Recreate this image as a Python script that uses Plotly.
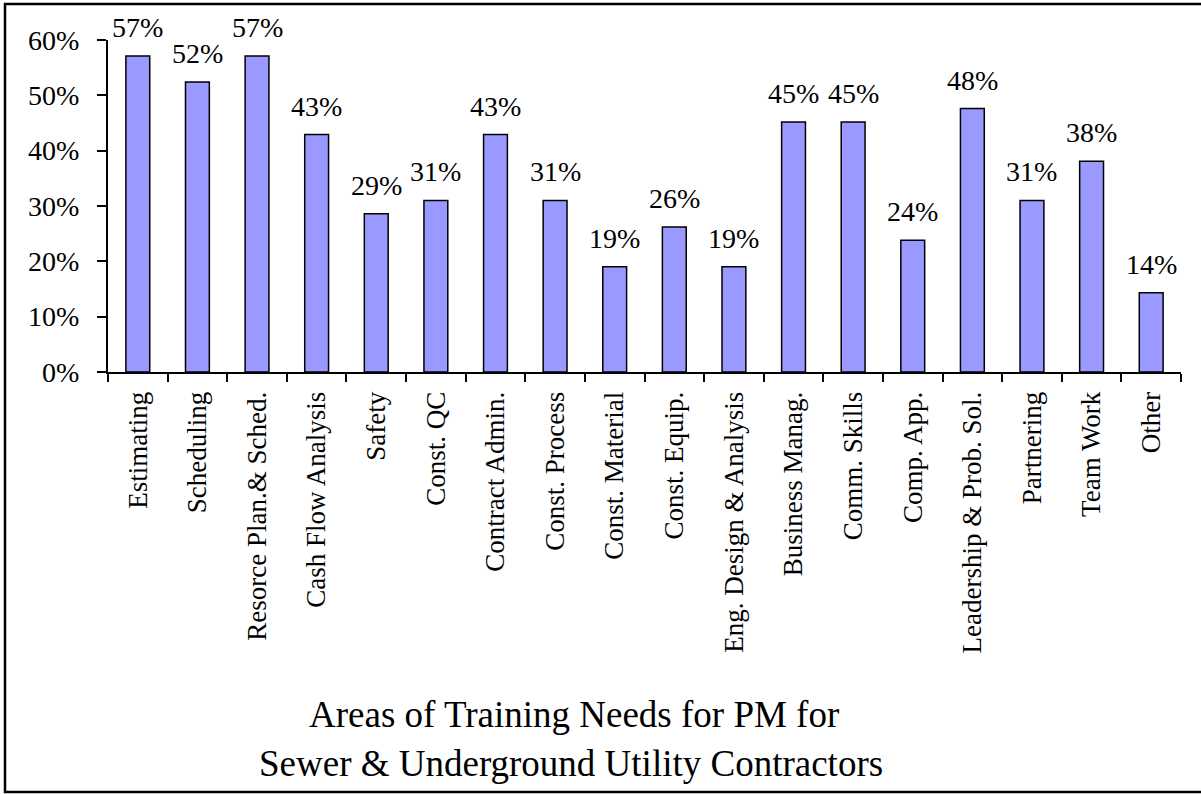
import plotly.graph_objects as go

categories = ["Estimating", "Scheduling", "Resorce Plan.& Sched.", "Cash Flow Analysis",
              "Safety", "Const. QC", "Contract Admin.", "Const. Process", "Const. Material",
              "Const. Equip.", "Eng. Design & Analysis", "Business Manag.", "Comm. Skills",
              "Comp. App.", "Leadership & Prob. Sol.", "Partnering", "Team Work", "Other"]
values = [0.571, 0.524, 0.571, 0.429, 0.286, 0.310, 0.429, 0.310, 0.190,
          0.262, 0.190, 0.452, 0.452, 0.238, 0.476, 0.310, 0.381, 0.143]
y_ticks = [0, 0.1, 0.2, 0.3, 0.4, 0.5, 0.6]
title_lines = ["Areas of Training Needs for PM for", "Sewer & Underground Utility Contractors"]

W, H = 1201, 794
# plot area in page pixels
X0, X1, Y0, Y1 = 108, 1181, 40, 372
ml, mr, mt, mb = X0, W - X1, Y0, H - Y1
pw, ph = W - ml - mr, H - mt - mb

def px(x):
    return (x - X0) / pw

def py(y):
    return (Y1 - y) / ph

FONT = "Liberation Serif, Times New Roman, serif"

fig = go.Figure(go.Bar(
    x=categories, y=values,
    marker=dict(color="#9999FF", line=dict(color="black", width=1.5)),
    width=0.4, hoverinfo="x+y",
))

value_labels = [dict(x=c, y=v, text=f"{v:.0%}", xref="x", yref="y", showarrow=False,
                     xanchor="center", yanchor="bottom", yshift=11,
                     font=dict(size=28, family=FONT, color="black"))
                for c, v in zip(categories, values)]

title_annots = [
    dict(text=title_lines[0], xref="paper", yref="paper", x=px(574), y=py(714),
         xanchor="center", yanchor="middle", showarrow=False,
         font=dict(size=37, family=FONT)),
    dict(text=title_lines[1], xref="paper", yref="paper", x=px(571), y=py(763),
         xanchor="center", yanchor="middle", showarrow=False,
         font=dict(size=37, family=FONT)),
]

fig.update_layout(
    width=W, height=H, margin=dict(l=ml, r=mr, t=mt, b=mb),
    paper_bgcolor="white", plot_bgcolor="white", showlegend=False,
    font=dict(family=FONT, color="black"),
    xaxis=dict(showline=True, linecolor="black", linewidth=2, ticks="outside",
               tickson="boundaries", ticklen=8, tickwidth=2, tickcolor="black",
               tickangle=-90, tickfont=dict(size=27, family=FONT), showgrid=False,
               ticklabelstandoff=7),
    yaxis=dict(range=[0, 0.6], tickvals=y_ticks, tickformat=".0%", showline=True,
               linecolor="black", linewidth=2, ticks="outside", ticklen=9, tickwidth=2,
               tickcolor="black", tickfont=dict(size=28, family=FONT), showgrid=False,
               zeroline=False, ticklabelstandoff=12),
    shapes=[dict(type="rect", xref="paper", yref="paper",
                 x0=px(5), x1=px(1210), y0=py(4), y1=py(792),
                 line=dict(color="black", width=2.5))],
    annotations=value_labels + title_annots,
)

fig.write_html("out.html", config={"displayModeBar": False},
               post_script="document.body.style.margin='0';document.body.style.overflow='hidden';")
